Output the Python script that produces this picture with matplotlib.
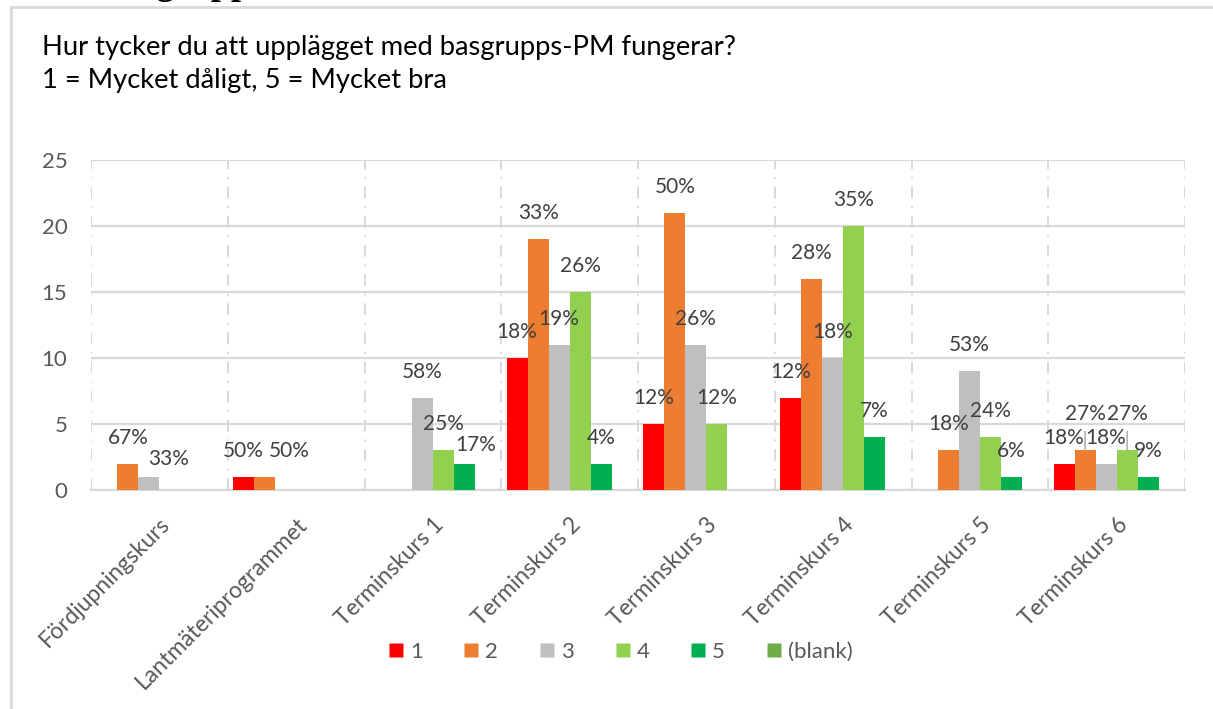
import matplotlib
matplotlib.use("Agg")
import matplotlib.pyplot as plt
import matplotlib.transforms as mtransforms
import numpy as np
from matplotlib.lines import Line2D

# ---------------- data ----------------
categories = ["Fördjupningskurs", "Lantmäteriprogrammet", "Terminskurs 1", "Terminskurs 2",
              "Terminskurs 3", "Terminskurs 4", "Terminskurs 5", "Terminskurs 6"]
series_names = ["1", "2", "3", "4", "5", "(blank)"]
s1 = [0, 1, 0, 10, 5, 7, 0, 2]
s2 = [2, 1, 0, 19, 21, 16, 3, 3]
s3 = [1, 0, 7, 11, 11, 10, 9, 2]
s4 = [0, 0, 3, 15, 5, 20, 4, 3]
s5 = [0, 0, 2, 2, 0, 4, 1, 1]
s_blank = [0, 0, 0, 0, 0, 0, 0, 0]
y_ticks = [0, 5, 10, 15, 20, 25]
title_line1 = "Hur tycker du att upplägget med basgrupps-PM fungerar?"
title_line2 = "1 = Mycket dåligt, 5 = Mycket bra"
heading = "Basgrupps-PM"

# ---------------- style ----------------
colors = ["#FF0000", "#ED7D31", "#BFBFBF", "#92D050", "#00B050", "#70AD47"]
FONT = ["Lato", "DejaVu Sans"]
plt.rcParams["font.family"] = FONT
grid_c = "#D9D9D9"
txt_c = "#595959"
lab_c = "#404040"

# label displacement (pixels) for overlapping labels: (category, series) -> (dx, dy, leader)
label_shift = {(0, 2): (20, -8, False), (1, 1): (25, 0, False), (2, 4): (11, -7, False),
               (7, 1): (0, 10, True), (7, 3): (0, 10, True)}

W, H = 1213, 709
fig = plt.figure(figsize=(W / 100, H / 100), dpi=100)
ax = fig.add_axes([91 / W, 1 - 490 / H, 1094 / W, 330 / H])

data = [s1, s2, s3, s4, s5, s_blank]
n = len(data)
x = np.arange(len(categories))
group = 0.9214
bw = group / n
totals = np.sum(np.array(data[:5]), axis=0)

for i, (vals, c, name) in enumerate(zip(data, colors, series_names)):
    pos = x - group / 2 + (i + 0.5) * bw
    ax.bar(pos, vals, width=bw, color=c, edgecolor="none", zorder=3, label=name)
    for j, v in enumerate(vals):
        if v <= 0:
            continue
        pct = int(v / totals[j] * 100 + 0.5)
        dx, dy, leader = label_shift.get((j, i), (0, 0, False))
        kw = {}
        if leader:
            kw["arrowprops"] = dict(arrowstyle="-", color="#A6A6A6", lw=1.0,
                                    shrinkA=3, shrinkB=0)
        ax.annotate(f"{pct}%", xy=(pos[j], v), xytext=(dx, 26 + dy),
                    textcoords="offset pixels", ha="center", va="center",
                    fontsize=15, color=lab_c, zorder=5, **kw)

ax.set_xlim(-0.5, len(categories) - 0.5)
ax.set_ylim(0, 25)
ax.set_yticks(y_ticks)
ax.set_yticklabels([str(t) for t in y_ticks], fontsize=16, color=txt_c)
ax.set_xticks(x)
ax.set_xticklabels(categories, rotation=45, ha="right", rotation_mode="anchor",
                   fontsize=16.5, color=txt_c)
shift = mtransforms.ScaledTranslation(-6 / 100, 0, fig.dpi_scale_trans)
for lbl in ax.get_xticklabels():
    lbl.set_transform(lbl.get_transform() + shift)
ax.set_xticks(np.arange(-0.5, len(categories), 1.0), minor=True)
ax.tick_params(axis="both", which="both", length=0)
ax.tick_params(axis="y", pad=17)
ax.tick_params(axis="x", pad=17)
ax.yaxis.grid(True, color=grid_c, lw=1.6, zorder=0)
ax.xaxis.grid(True, which="minor", color=grid_c, lw=1.4, ls=(0, (6, 4, 1, 4)), zorder=0)
ax.xaxis.grid(False, which="major")
for s in ["top", "right", "left"]:
    ax.spines[s].set_visible(False)
ax.spines["bottom"].set_color(grid_c)
ax.spines["bottom"].set_linewidth(1.6)
ax.set_axisbelow(True)

# titles
fig.text(42 / W, 1 - 55 / H, title_line1, fontsize=19.7, color="#000000", va="baseline", ha="left")
fig.text(42 / W, 1 - 88 / H, title_line2, fontsize=19.7, color="#000000", va="baseline", ha="left")
# heading cut off at top of page
fig.text(100 / W, 1 + 6 / H, heading, fontsize=26, fontweight="bold",
         family=["Liberation Serif", "DejaVu Serif"], color="#000000", va="baseline", ha="left")

# chart frame
fig.add_artist(Line2D([11 / W, 1], [1 - 7 / H, 1 - 7 / H], transform=fig.transFigure,
                      color=grid_c, lw=2))
fig.add_artist(Line2D([11 / W, 11 / W], [1 - 7 / H, 0], transform=fig.transFigure,
                      color=grid_c, lw=2))

# legend
handles = [Line2D([], [], marker="s", ls="none", markersize=10, color=c,
                  markeredgecolor="none") for c in colors]
fig.legend(handles, series_names, loc="center", bbox_to_anchor=(620.5 / W, 1 - 652 / H),
           ncol=6, frameon=False, fontsize=16, labelcolor=txt_c, handlelength=0.65,
           handletextpad=0.3, columnspacing=1.87, borderaxespad=0)

fig.savefig("out.png", dpi=100)
